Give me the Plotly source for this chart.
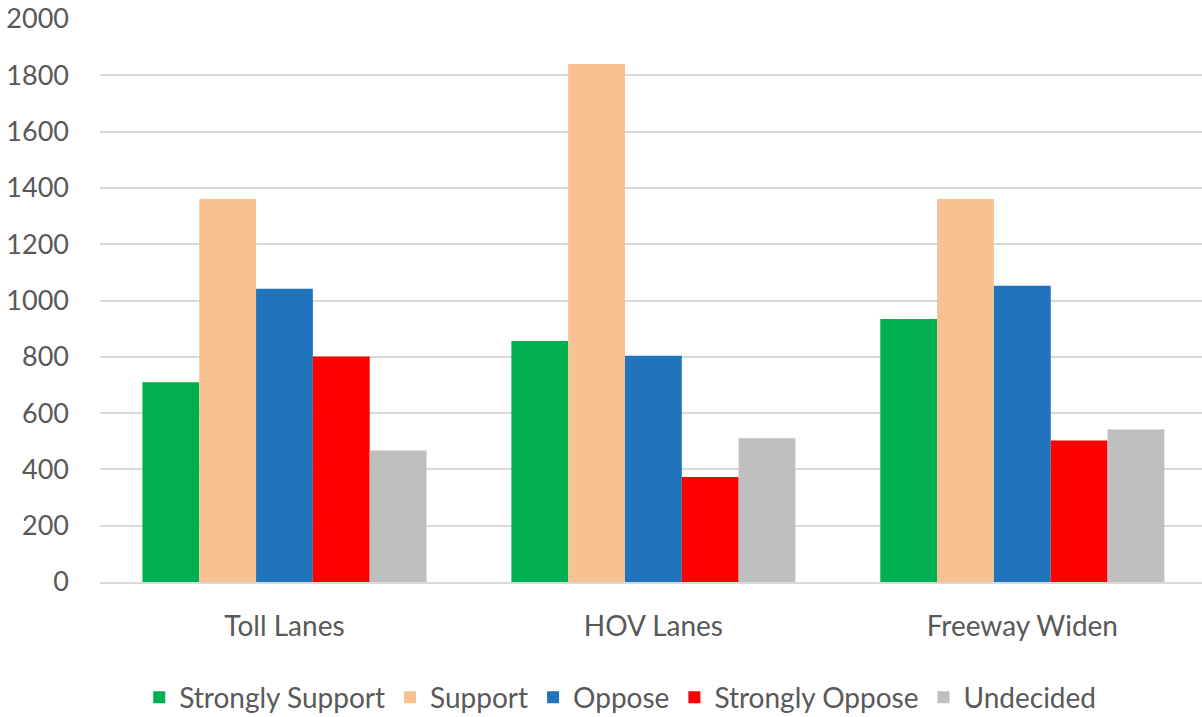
import plotly.graph_objects as go

categories = ["Toll Lanes", "HOV Lanes", "Freeway Widen"]
strongly_support = [710, 856, 934]
support = [1361, 1840, 1361]
oppose = [1042, 804, 1052]
strongly_oppose = [801, 373, 503]
undecided = [467, 511, 542]

series = [
    ("Strongly Support", strongly_support, "#00B050"),
    ("Support", support, "#F8C191"),
    ("Oppose", oppose, "#1F74BC"),
    ("Strongly Oppose", strongly_oppose, "#FF0000"),
    ("Undecided", undecided, "#BFBFBF"),
]

FONT = "Lato, 'Open Sans', sans-serif"
TEXT = "#595959"
SIZE = 28

fig = go.Figure()
for name, vals, color in series:
    fig.add_trace(go.Bar(
        name=name, x=categories, y=vals,
        marker=dict(color=color, line=dict(width=0)),
    ))

fig.update_layout(
    width=1202, height=717,
    barmode="group", bargap=0.23, bargroupgap=0,
    plot_bgcolor="white", paper_bgcolor="white",
    margin=dict(l=100, r=0, t=19, b=135, autoexpand=False),
    font=dict(family=FONT, size=SIZE, color=TEXT),
    legend=dict(
        orientation="h", xref="container", yref="container",
        x=0.516, xanchor="center", y=0.027, yanchor="middle",
        font=dict(family=FONT, size=SIZE, color=TEXT),
        itemwidth=30, traceorder="normal",
    ),
    xaxis=dict(
        range=[-0.5, 2.487], tickangle=0,
        showgrid=False, showline=True, linecolor="#D9D9D9", linewidth=1.5,
        ticks="outside", ticklen=19, tickcolor="rgba(0,0,0,0)",
        tickfont=dict(family=FONT, size=SIZE, color=TEXT),
    ),
    yaxis=dict(
        range=[0, 2000], tickvals=list(range(0, 2001, 200)),
        showgrid=True, gridcolor="#D9D9D9", gridwidth=1.5,
        zeroline=False, showline=False,
        ticks="", ticklabelstandoff=30,
        tickfont=dict(family=FONT, size=SIZE - 1, color=TEXT),
    ),
)

fig.write_html("out.html")
